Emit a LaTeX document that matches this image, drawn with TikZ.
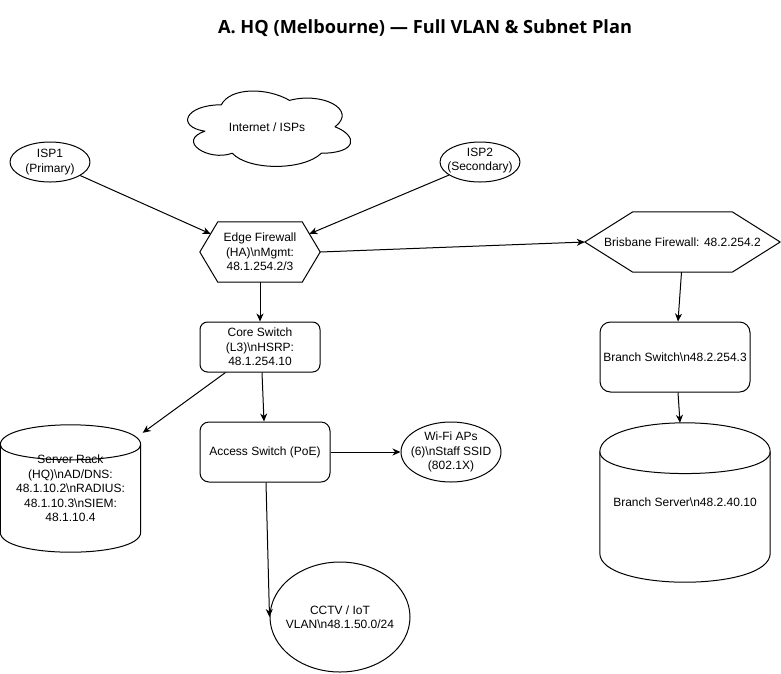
\documentclass[tikz,border=0pt]{standalone}
\usepackage{fontspec}
\setmainfont{Liberation Sans}
\newfontfamily\titlefont{Open Sans}
\usetikzlibrary{arrows.meta,calc,shapes.geometric}
\tikzset{
  txt/.style={font=\fontsize{12}{14.5}\selectfont, align=center, inner sep=0pt},
  shp/.style={draw=black, line width=1pt, line join=round},
  box/.style={txt, shp, rounded corners=#1},
  ell/.style={shp, ellipse, inner sep=0pt},
  conn/.style={draw=black, line width=1pt, -{Stealth[length=8pt,width=7pt,inset=2.5pt]}},
}
\newcommand\drawhexa[2]{%
  \draw[shp] (#1.west) -- ([xshift=#2pt]#1.north west) -- ([xshift=-#2pt]#1.north east)
    -- (#1.east) -- ([xshift=-#2pt]#1.south east) -- ([xshift=#2pt]#1.south west) -- cycle;}
\newcommand\drawcyl[2]{%
  \draw[shp] ([yshift=-#2pt]#1.north west)
    .. controls ([yshift=#2pt/3]#1.north west) and ([yshift=#2pt/3]#1.north east) .. ([yshift=-#2pt]#1.north east)
    -- ([yshift=#2pt]#1.south east)
    .. controls ([yshift=-#2pt/3]#1.south east) and ([yshift=-#2pt/3]#1.south west) .. ([yshift=#2pt]#1.south west)
    -- cycle;
  \draw[shp] ([yshift=-#2pt]#1.north west)
    .. controls ([yshift=-#2pt*2]#1.north west) and ([yshift=-#2pt*2]#1.north east) .. ([yshift=-#2pt]#1.north east);}
\begin{document}
\begin{tikzpicture}[x=1pt,y=-1pt]
\fill[white] (0,0) rectangle (781,673);
\useasboundingbox (0,0) rectangle (781,673);

\node[txt] (title) at (425,28) {\titlefont\bfseries\fontsize{18.2}{21}\selectfont A. HQ (Melbourne) — Full VLAN \& Subnet Plan};

% cloud
\node[txt, minimum width=182pt, minimum height=88pt] (cloud) at (267,127) {Internet / ISPs};
\begin{scope}[shift={(cloud.north west)}, x=182pt, y=-88pt]
\draw[shp] (0.25,0.25) .. controls (0.05,0.25) and (0,0.5) .. (0.16,0.55)
  .. controls (0,0.66) and (0.18,0.9) .. (0.31,0.8)
  .. controls (0.4,1) and (0.7,1) .. (0.8,0.8)
  .. controls (1,0.8) and (1,0.6) .. (0.875,0.5)
  .. controls (1,0.3) and (0.8,0.1) .. (0.625,0.2)
  .. controls (0.5,0.05) and (0.3,0.05) .. (0.25,0.25) -- cycle;
\end{scope}

% ISPs
\node[ell, minimum width=80pt, minimum height=40pt] (isp1) at (50,162) {};
\node[txt] (isp1t) at (isp1.center) {ISP1\\(Primary)};
\node[ell, minimum width=80pt, minimum height=40pt] (isp2) at (480,162) {};
\node[txt] (isp2t) at ([yshift=1.5pt]isp2.center) {ISP2\\(Secondary)};

% firewalls
\node[txt, minimum width=120pt, minimum height=60pt] (fw) at (260,252) {Edge Firewall\\(HA)\textbackslash nMgmt:\\48.1.254.2/3};
\drawhexa{fw}{18}
\node[txt, minimum width=195pt, minimum height=60pt] (bris) at (682.5,242) {Brisbane Firewall: 48.2.254.2};
\drawhexa{bris}{48}

% switches
\node[box=7.5pt, minimum width=120pt, minimum height=50pt] (core) at (260,347) {Core Switch\\(L3)\textbackslash nHSRP:\\48.1.254.10};
\node[box=9pt, minimum width=130pt, minimum height=60pt] (access) at (265,452) {Access Switch (PoE)};
\node[box=10.5pt, minimum width=150pt, minimum height=70pt] (branch) at (675,357) {Branch Switch\textbackslash n48.2.254.3};

% ellipses
\node[ell, minimum width=100pt, minimum height=60pt] (wifi) at (451,452) {};
\node[txt] (wifit) at (wifi.center) {Wi-Fi APs\\(6)\textbackslash nStaff SSID\\(802.1X)};
\node[ell, minimum width=140pt, minimum height=110pt] (cctv) at (340,617) {};
\node[txt] (cctvt) at (cctv.center) {CCTV / IoT\\VLAN\textbackslash n48.1.50.0/24};

% cylinders
\node[txt, minimum width=140pt, minimum height=127pt] (rack) at (70.5,488.5) {Server Rack\\(HQ)\textbackslash nAD/DNS:\\48.1.10.2\textbackslash nRADIUS:\\48.1.10.3\textbackslash nSIEM:\\48.1.10.4};
\drawcyl{rack}{20}
\node[txt, minimum width=170pt, minimum height=159pt] (bserver) at (685,502.5) {Branch Server\textbackslash n48.2.40.10};
\drawcyl{bserver}{29}

% connectors
\draw[conn] (isp1) -- ($(fw.west)!0.6!([xshift=18pt]fw.north west)$);
\draw[conn] (isp2) -- ($(fw.east)!0.6!([xshift=-18pt]fw.north east)$);
\draw[conn] (fw.east) -- (bris.west);
\draw[conn] (fw.south) -- (core.north);
\draw[conn] ([xshift=26pt]core.south west) -- ($(rack.north east)+(2,8)$);
\draw[conn] ([xshift=2pt]core.south) -- ([xshift=-1pt]access.north);
\draw[conn] (access.east) -- (wifi.west);
\draw[conn] ([xshift=1pt]access.south) -- (cctv.west);
\draw[conn] ([xshift=-1pt]bris.south) -- ([xshift=3pt]branch.north);
\draw[conn] ([xshift=3pt]branch.south) -- ([xshift=-5pt]bserver.north);
\end{tikzpicture}
\end{document}
